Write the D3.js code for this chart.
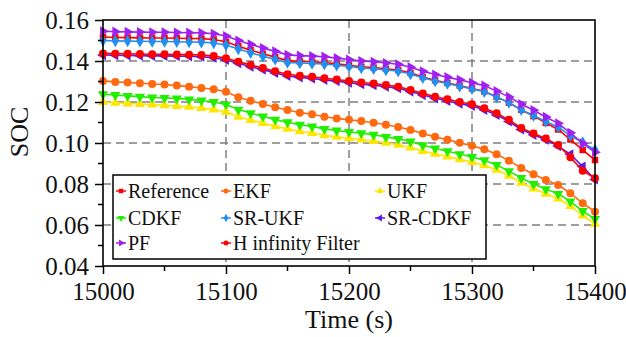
<!DOCTYPE html>
<html>
<head>
<meta charset="utf-8">
<script src="https://cdn.jsdelivr.net/npm/d3@7"></script>
<style>
  body { margin: 0; background: #fff; }
  svg text { font-family: "Liberation Serif", "Times New Roman", serif; }
</style>
</head>
<body>
<div id="chart"></div>
<script>
// Set dimensions
var w = 626;
var h = 337;
var margin = {top: 20, right: 31, bottom: 71, left: 103};
var serif = "Liberation Serif, Times New Roman, serif";

var times = d3.range(15000, 15401, 10);

var reference = [0.1517,0.1515,0.1514,0.1513,0.1512,0.1512,0.1511,0.1510,0.1509,0.1505,0.1494,0.1472,0.1453,0.1435,0.1419,0.1402,0.1398,0.1396,0.1393,0.1386,0.1379,0.1372,0.1368,0.1362,0.1356,0.1342,0.1322,0.1306,0.1293,0.1280,0.1266,0.1252,0.1225,0.1197,0.1162,0.1131,0.1098,0.1066,0.1017,0.0966,0.0917];
var ekf = [0.1303,0.1298,0.1295,0.1292,0.1288,0.1285,0.1280,0.1275,0.1268,0.1262,0.1250,0.1223,0.1206,0.1190,0.1174,0.1161,0.1148,0.1140,0.1128,0.1120,0.1113,0.1107,0.1099,0.1089,0.1078,0.1064,0.1046,0.1030,0.1016,0.1001,0.0986,0.0969,0.0945,0.0914,0.0878,0.0848,0.0820,0.0795,0.0755,0.0706,0.0665];
var ukf = [0.1200,0.1196,0.1193,0.1190,0.1187,0.1184,0.1180,0.1176,0.1170,0.1163,0.1152,0.1128,0.1112,0.1097,0.1082,0.1069,0.1057,0.1049,0.1038,0.1030,0.1023,0.1017,0.1010,0.1001,0.0991,0.0978,0.0961,0.0947,0.0934,0.0920,0.0907,0.0891,0.0869,0.0840,0.0806,0.0778,0.0752,0.0729,0.0692,0.0646,0.0606];
var cdkf = [0.1238,0.1234,0.1230,0.1226,0.1222,0.1220,0.1217,0.1213,0.1207,0.1200,0.1188,0.1163,0.1146,0.1130,0.1114,0.1101,0.1089,0.1081,0.1069,0.1061,0.1054,0.1048,0.1040,0.1030,0.1020,0.1007,0.0989,0.0974,0.0960,0.0946,0.0932,0.0916,0.0893,0.0863,0.0829,0.0800,0.0775,0.0752,0.0715,0.0668,0.0630];
var srUkf = [0.1500,0.1498,0.1497,0.1496,0.1495,0.1495,0.1494,0.1493,0.1492,0.1488,0.1478,0.1458,0.1440,0.1423,0.1408,0.1393,0.1390,0.1388,0.1385,0.1379,0.1373,0.1366,0.1362,0.1356,0.1351,0.1337,0.1318,0.1302,0.1290,0.1277,0.1264,0.1250,0.1224,0.1197,0.1162,0.1134,0.1105,0.1078,0.1036,0.1002,0.0966];
var srCdkf = [0.1429,0.1428,0.1427,0.1426,0.1425,0.1425,0.1424,0.1423,0.1421,0.1416,0.1405,0.1389,0.1372,0.1358,0.1342,0.1327,0.1320,0.1315,0.1308,0.1302,0.1294,0.1287,0.1282,0.1275,0.1267,0.1251,0.1234,0.1218,0.1205,0.1192,0.1181,0.1162,0.1137,0.1105,0.1066,0.1040,0.1016,0.0985,0.0945,0.0885,0.0822];
var pf = [0.1545,0.1543,0.1542,0.1541,0.1540,0.1540,0.1539,0.1538,0.1537,0.1533,0.1522,0.1500,0.1481,0.1463,0.1447,0.1430,0.1426,0.1424,0.1421,0.1414,0.1407,0.1400,0.1396,0.1390,0.1384,0.1370,0.1350,0.1334,0.1321,0.1308,0.1294,0.1280,0.1253,0.1225,0.1190,0.1160,0.1127,0.1096,0.1050,0.0998,0.0955];
var hInf = [0.1437,0.1436,0.1435,0.1434,0.1433,0.1433,0.1432,0.1431,0.1429,0.1424,0.1413,0.1397,0.1380,0.1366,0.1350,0.1335,0.1328,0.1323,0.1316,0.1310,0.1302,0.1295,0.1290,0.1283,0.1275,0.1259,0.1242,0.1226,0.1213,0.1200,0.1189,0.1170,0.1145,0.1113,0.1073,0.1046,0.1022,0.0990,0.0930,0.0865,0.0828];

var names = ["Reference", "EKF", "UKF", "CDKF", "SR-UKF", "SR-CDKF", "PF", "H infinity Filter"];
var values = [reference, ekf, ukf, cdkf, srUkf, srCdkf, pf, hInf];
var colors = ["#ff0000", "#ff6a10", "#ffe600", "#22ee00", "#2090f0", "#5a1ae6", "#a020f0", "#ff0000"];
var shapes = [d3.symbolSquare, d3.symbolCircle, d3.symbolTriangle, "down", d3.symbolDiamond, "left", "right", d3.symbolCircle];

var xTicks = [15000, 15100, 15200, 15300, 15400];
var yTicks = [0.04, 0.06, 0.08, 0.10, 0.12, 0.14, 0.16];

var xScale = d3.scaleLinear()
    .domain([15000, 15400])
    .range([margin.left, w - margin.right]);

var yScale = d3.scaleLinear()
    .domain([0.04, 0.16])
    .range([h - margin.bottom, margin.top]);

var svg = d3.select("#chart")
    .append("svg")
    .attr("width", w)
    .attr("height", h)
    .attr("font-family", serif);

// Grid
svg.append("g").selectAll("line")
    .data(xTicks.slice(1, -1))
    .enter().append("line")
    .attr("x1", function(d) { return xScale(d); })
    .attr("x2", function(d) { return xScale(d); })
    .attr("y1", margin.top)
    .attr("y2", h - margin.bottom)
    .attr("stroke", "#808080").attr("stroke-width", 1.5).attr("stroke-dasharray", "8,5");

svg.append("g").selectAll("line")
    .data(yTicks.slice(1, -1))
    .enter().append("line")
    .attr("x1", margin.left)
    .attr("x2", w - margin.right)
    .attr("y1", function(d) { return yScale(d); })
    .attr("y2", function(d) { return yScale(d); })
    .attr("stroke", "#808080").attr("stroke-width", 1.5).attr("stroke-dasharray", "8,5");

// Marker path generator
function markerPath(shape, size) {
    if (shape === "down" || shape === "left" || shape === "right") {
        return d3.symbol().type(d3.symbolTriangle).size(size)();
    }
    return d3.symbol().type(shape).size(size)();
}
function markerRotate(shape) {
    if (shape === "down") return 180;
    if (shape === "left") return -90;
    if (shape === "right") return 90;
    return 0;
}

var line = d3.line()
    .x(function(d, i) { return xScale(times[i]); })
    .y(function(d) { return yScale(d); });

values.forEach(function(vals, k) {
    var g = svg.append("g");
    g.append("path")
        .attr("d", line(vals))
        .attr("fill", "none")
        .attr("stroke", colors[k])
        .attr("stroke-width", 1.6);
    var sz = shapes[k] === d3.symbolSquare ? 42 : (shapes[k] === d3.symbolCircle ? 50 : 45);
    g.selectAll("path.m")
        .data(vals)
        .enter().append("path")
        .attr("class", "m")
        .attr("d", markerPath(shapes[k], sz))
        .attr("transform", function(d, i) {
            return "translate(" + xScale(times[i]) + "," + yScale(d) + ") rotate(" + markerRotate(shapes[k]) + ")";
        })
        .attr("fill", colors[k]);
});

// Axes
var xAxis = d3.axisBottom(xScale).tickValues(xTicks).tickSize(8).tickPadding(8).tickFormat(d3.format("d"));
var yAxis = d3.axisLeft(yScale).tickValues(yTicks).tickSize(8).tickPadding(6).tickFormat(d3.format(".2f"));

var gx = svg.append("g")
    .attr("transform", "translate(0," + (h - margin.bottom) + ")")
    .call(xAxis);
var gy = svg.append("g")
    .attr("transform", "translate(" + margin.left + ",0)")
    .call(yAxis);

// Minor ticks
gx.selectAll(".minor")
    .data([15050, 15150, 15250, 15350])
    .enter().append("line")
    .attr("x1", function(d) { return xScale(d); })
    .attr("x2", function(d) { return xScale(d); })
    .attr("y1", 0).attr("y2", 5)
    .attr("stroke", "#000").attr("stroke-width", 1.5);
gy.selectAll(".minor")
    .data([0.05, 0.07, 0.09, 0.11, 0.13, 0.15])
    .enter().append("line")
    .attr("y1", function(d) { return yScale(d); })
    .attr("y2", function(d) { return yScale(d); })
    .attr("x1", 0).attr("x2", -5)
    .attr("stroke", "#000").attr("stroke-width", 1.5);

[gx, gy].forEach(function(g) {
    g.attr("font-family", serif).attr("font-size", 25);
    g.select(".domain").remove();
    g.selectAll(".tick line").attr("stroke", "#000").attr("stroke-width", 1.5);
    g.selectAll(".tick text").attr("fill", "#111");
});

// Frame
svg.append("rect")
    .attr("x", margin.left)
    .attr("y", margin.top)
    .attr("width", w - margin.left - margin.right)
    .attr("height", h - margin.top - margin.bottom)
    .attr("fill", "none")
    .attr("stroke", "#000")
    .attr("stroke-width", 1.6);

// Axis titles
svg.append("text")
    .attr("x", (margin.left + w - margin.right) / 2)
    .attr("y", 328)
    .attr("text-anchor", "middle")
    .attr("font-size", 26)
    .attr("fill", "#111")
    .text("Time (s)");

svg.append("text")
    .attr("transform", "translate(28,132) rotate(-90)")
    .attr("text-anchor", "middle")
    .attr("font-size", 26)
    .attr("fill", "#111")
    .text("SOC");

// Legend
var legend = svg.append("g").attr("transform", "translate(113,175)");
legend.append("rect")
    .attr("width", 373)
    .attr("height", 84)
    .attr("fill", "#fff")
    .attr("stroke", "#000")
    .attr("stroke-width", 1.5);

var colX = [3, 108, 262];
var rowY = [16, 43, 68];

var legendItems = legend.selectAll(".legend-item")
    .data(names)
    .enter()
    .append("g")
    .attr("class", "legend-item")
    .attr("transform", function(d, i) {
        return "translate(" + colX[i % 3] + "," + rowY[Math.floor(i / 3)] + ")";
    });

legendItems.append("line")
    .attr("x1", 0).attr("x2", 10)
    .attr("stroke", function(d, i) { return colors[i]; })
    .attr("stroke-width", 1.5);

legendItems.append("path")
    .attr("d", function(d, i) { return markerPath(shapes[i], 20); })
    .attr("transform", function(d, i) { return "translate(5,0) rotate(" + markerRotate(shapes[i]) + ")"; })
    .attr("fill", function(d, i) { return colors[i]; });

legendItems.append("text")
    .attr("x", 12)
    .attr("y", 7)
    .attr("font-size", 20)
    .attr("fill", "#111")
    .text(function(d) { return d; });
</script>
</body>
</html>
